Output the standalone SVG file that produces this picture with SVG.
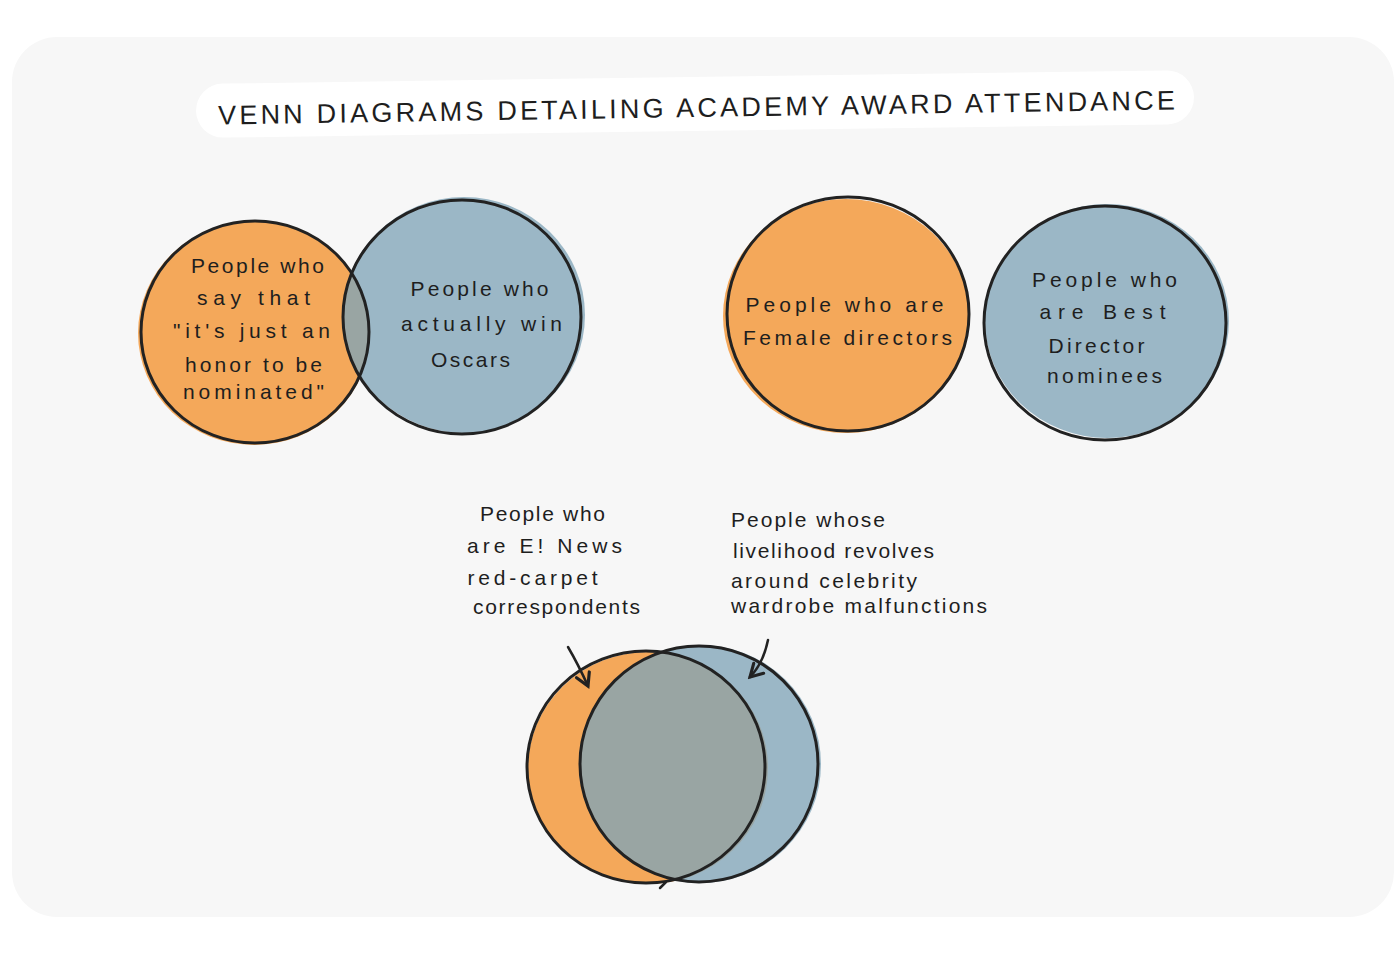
<svg xmlns="http://www.w3.org/2000/svg" width="1400" height="963" viewBox="0 0 1400 963">
<style>
.t{font-family:"Liberation Sans","DejaVu Sans",sans-serif;font-size:21px;fill:#1e1e1e;letter-spacing:1px}
.ti{font-family:"Liberation Sans","DejaVu Sans",sans-serif;font-size:27px;fill:#1e1e1e}
.ol{fill:none;stroke:#222;stroke-width:3}
.or{fill:#f4a85a}
.bl{fill:#9bb7c6}
.gr{fill:#99a5a3}
.ar{fill:none;stroke:#222;stroke-width:2.5;stroke-linecap:round}
</style>
<defs>
<clipPath id="c1"><ellipse cx="254" cy="332" rx="115" ry="112"/></clipPath>
<clipPath id="c2"><ellipse cx="648" cy="768" rx="120" ry="116"/></clipPath>
<marker id="ah" viewBox="0 0 10 10" refX="8" refY="5" markerWidth="7" markerHeight="7" orient="auto"><path d="M1,1 L8,5 L1,9" fill="none" stroke="#222" stroke-width="1.8" stroke-linecap="round"/></marker>
</defs>
<rect width="1400" height="963" fill="#ffffff"/>
<rect x="12" y="37" width="1382" height="880" rx="45" fill="#f7f7f7"/>
<g id="title">
<rect x="196" y="77" width="998" height="54" rx="27" fill="#ffffff" transform="rotate(-0.8 695 104)"/>
<text class="ti" x="218" y="117" textLength="957" lengthAdjust="spacing" transform="rotate(-0.9 695 110)">VENN DIAGRAMS DETAILING ACADEMY AWARD ATTENDANCE</text>
</g>
<g id="venn1">
<g id="v1-left">
<ellipse class="or" cx="254" cy="333" rx="116" ry="112"/>
</g>
<g id="v1-right">
<ellipse class="bl" cx="464" cy="315" rx="121" ry="118"/>
<ellipse class="gr" cx="464" cy="315" rx="121" ry="118" clip-path="url(#c1)"/>
<ellipse class="ol" cx="255" cy="332" rx="114" ry="111"/>
<ellipse class="ol" cx="462" cy="317" rx="119" ry="117"/>
<text class="t" x="258" y="273" text-anchor="middle" textLength="134" lengthAdjust="spacing">People who</text>
<text class="t" x="254" y="305" text-anchor="middle" textLength="114" lengthAdjust="spacing">say that</text>
<text class="t" x="252" y="338" text-anchor="middle" textLength="158" lengthAdjust="spacing">"it's just an</text>
<text class="t" x="254" y="372" text-anchor="middle" textLength="138" lengthAdjust="spacing">honor to be</text>
<text class="t" x="254" y="399" text-anchor="middle" textLength="142" lengthAdjust="spacing">nominated"</text>
<text class="t" x="480" y="296" text-anchor="middle" textLength="139" lengthAdjust="spacing">People who</text>
<text class="t" x="482" y="331" text-anchor="middle" textLength="162" lengthAdjust="spacing">actually win</text>
<text class="t" x="471" y="367" text-anchor="middle" textLength="80" lengthAdjust="spacing">Oscars</text>
</g>
</g>
<g id="venn2-left">
<ellipse class="or" cx="846" cy="316" rx="123" ry="117"/>
<ellipse class="ol" cx="848" cy="314" rx="121" ry="117"/>
<text class="t" x="845" y="312" text-anchor="middle" textLength="199" lengthAdjust="spacing">People who are</text>
<text class="t" x="848" y="345" text-anchor="middle" textLength="210" lengthAdjust="spacing">Female directors</text>
</g>
<g id="venn2-right">
<ellipse class="bl" cx="1107" cy="321" rx="122" ry="117"/>
<ellipse class="ol" cx="1105" cy="323" rx="121" ry="117"/>
<text class="t" x="1105" y="287" text-anchor="middle" textLength="146" lengthAdjust="spacing">People who</text>
<text class="t" x="1103" y="319" text-anchor="middle" textLength="127" lengthAdjust="spacing">are Best</text>
<text class="t" x="1097" y="353" text-anchor="middle" textLength="97" lengthAdjust="spacing">Director</text>
<text class="t" x="1105" y="383" text-anchor="middle" textLength="116" lengthAdjust="spacing">nominees</text>
</g>
<g id="venn3">
<g id="v3-left">
<ellipse class="or" cx="648" cy="768" rx="120" ry="116"/>
</g>
<g id="v3-right">
<ellipse class="bl" cx="700" cy="764" rx="121" ry="119"/>
<ellipse class="gr" cx="700" cy="764" rx="121" ry="119" clip-path="url(#c2)"/>
<ellipse class="ol" cx="646" cy="767" rx="119" ry="116"/>
<ellipse class="ol" cx="699" cy="764" rx="119" ry="118"/>
</g>
</g>
<g id="label-left">
<text class="t" x="543" y="521" text-anchor="middle" textLength="126" lengthAdjust="spacing">People who</text>
<text class="t" x="545" y="553" text-anchor="middle" textLength="156" lengthAdjust="spacing">are E! News</text>
<text class="t" x="533" y="585" text-anchor="middle" textLength="131" lengthAdjust="spacing">red-carpet</text>
<text class="t" x="557" y="614" text-anchor="middle" textLength="168" lengthAdjust="spacing">correspondents</text>
</g>
<g id="label-right">
<text class="t" x="731" y="527" textLength="155" lengthAdjust="spacing">People whose</text>
<text class="t" x="733" y="558" textLength="202" lengthAdjust="spacing">livelihood revolves</text>
<text class="t" x="731" y="588" textLength="187" lengthAdjust="spacing">around celebrity</text>
<text class="t" x="731" y="613" textLength="257" lengthAdjust="spacing">wardrobe malfunctions</text>
</g>
<g id="connectors">
<path class="ar" d="M568,647 Q578,664 588,686" marker-end="url(#ah)"/>
<path class="ar" d="M768,640 Q763,664 750,677" marker-end="url(#ah)"/>
<path class="ar" d="M660,888 L666,882"/>
</g>
</svg>
